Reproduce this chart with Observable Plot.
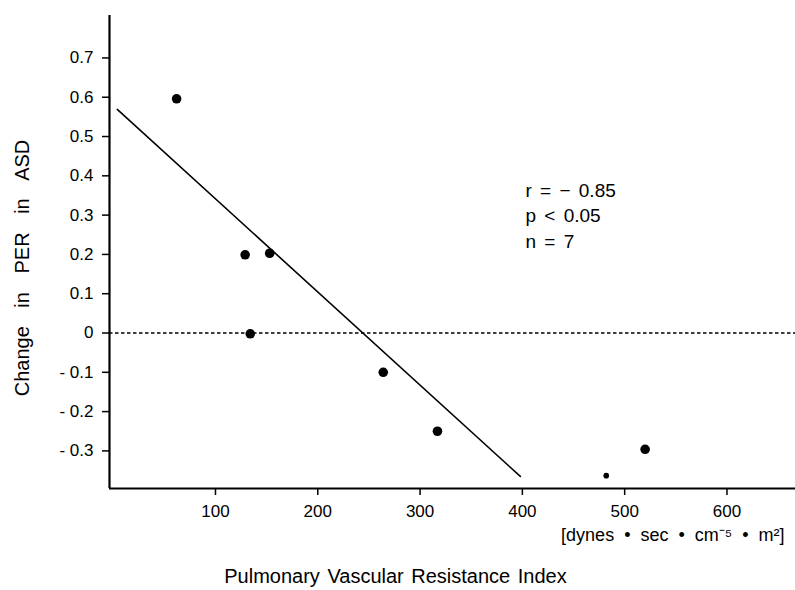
<!DOCTYPE html>
<html><head><meta charset="utf-8">
<script src="https://cdn.jsdelivr.net/npm/d3@7"></script>
<script src="https://cdn.jsdelivr.net/npm/@observablehq/plot@0.6"></script>
<style>body{margin:0;background:#fff}</style>
</head><body><div id="chart"></div>
<script>
// Data
const pvri = [62, 129, 153, 134, 264, 317, 520];
const perChange = [0.596, 0.199, 0.203, -0.002, -0.1, -0.25, -0.296];
const partialX = [482];
const partialY = [-0.363];
const fitX = [4, 398];
const fitY = [0.569, -0.365];
const xTicks = [100, 200, 300, 400, 500, 600];
const yTicks = [-0.3, -0.2, -0.1, 0, 0.1, 0.2, 0.3, 0.4, 0.5, 0.6, 0.7];
const statsText = ["r = − 0.85", "p < 0.05", "n = 7"];
const xTitle = "Pulmonary Vascular Resistance Index";
const xUnit = "[dynes • sec • cm⁻⁵ • m²]";
const yTitle = "Change in PER in ASD";

const xDomain = [-3.6, 667];
const yDomain = [-0.3957, 0.808];

const points = pvri.map((x, i) => ({x, y: perChange[i]}));
const partial = partialX.map((x, i) => ({x, y: partialY[i]}));
const fit = fitX.map((x, i) => ({x, y: fitY[i]}));

const chart = Plot.plot({
  width: 795, height: 590,
  marginLeft: 109, marginRight: 0, marginTop: 15, marginBottom: 102,
  style: {fontFamily: "'Liberation Sans', Arial, sans-serif", background: "#fff", color: "#000"},
  x: {domain: xDomain},
  y: {domain: yDomain},
  marks: [
    Plot.ruleY([0], {x1: xDomain[0], x2: xDomain[1], strokeDasharray: "3.5,2.5", strokeWidth: 1.4}),
    Plot.line(fit, {x: "x", y: "y", strokeWidth: 1.6}),
    Plot.dot(points, {x: "x", y: "y", r: 4.8, fill: "black", stroke: null}),
    Plot.dot(partial, {x: "x", y: "y", r: 2.8, fill: "black", stroke: null}),
    Plot.axisY({ticks: yTicks, tickSize: 7, tickPadding: 9, fontSize: 17, label: null, strokeWidth: 1.5,
      tickFormat: d => d === 0 ? "0" : (d < 0 ? "- " : "") + Math.abs(d).toFixed(1)}),
    Plot.axisX({ticks: xTicks, tickSize: 7, tickPadding: 9, fontSize: 17, label: null, strokeWidth: 1.5,
      tickFormat: d => String(d)}),
    Plot.ruleX([xDomain[0]], {strokeWidth: 2.2}),
    Plot.ruleY([yDomain[0]], {strokeWidth: 2.2}),
    Plot.text([statsText.join("\n")], {x: 403, y: 0.303, textAnchor: "start", lineAnchor: "middle", lineHeight: 1.35, fontSize: 19}),
    Plot.text([xUnit], {frameAnchor: "bottom-right", dx: -11, dy: 52, fontSize: 18, textAnchor: "end"}),
    Plot.text([xTitle], {frameAnchor: "bottom", dx: -57, dy: 94, fontSize: 20}),
    Plot.text([yTitle], {frameAnchor: "left", dx: -87, dy: 16, fontSize: 20, rotate: -90, textAnchor: "middle"})
  ]
});
d3.select(chart).selectAll("text").each(function() {
  const t = this.textContent;
  if (t === xTitle) this.setAttribute("word-spacing", "2");
  if (t === yTitle) this.setAttribute("word-spacing", "13");
  if (t === xUnit) this.setAttribute("word-spacing", "5");
  if (t.startsWith("r =")) this.setAttribute("word-spacing", "3");
});
document.getElementById("chart").appendChild(chart);
</script>
</body></html>
